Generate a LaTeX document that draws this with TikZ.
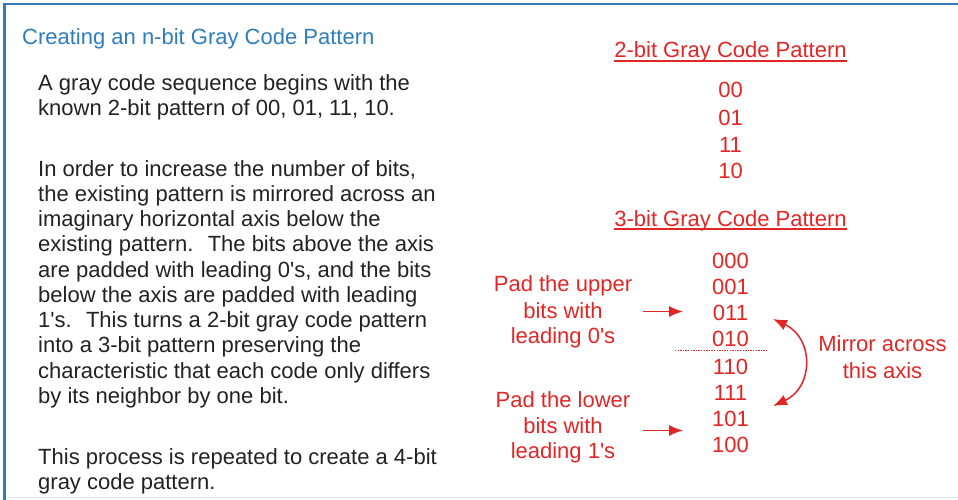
\documentclass[tikz,border=0pt]{standalone}
\usepackage{fontspec}
\setmainfont{Liberation Sans}[Ligatures=TeXOff]
\usetikzlibrary{arrows.meta}
\definecolor{frameblue}{RGB}{52,122,192}
\definecolor{titleblue}{RGB}{46,125,190}
\definecolor{bodytext}{RGB}{34,34,34}
\definecolor{codered}{RGB}{226,38,38}
\definecolor{faint}{RGB}{226,230,238}
\tikzset{
  body/.style={anchor=base west, inner sep=0pt, text=bodytext, font=\fontsize{22}{26}\selectfont},
  ttl/.style={anchor=base west, inner sep=0pt, text=titleblue, font=\fontsize{22}{26}\selectfont},
  redc/.style={anchor=base, inner sep=0pt, text=codered, font=\fontsize{22}{26}\selectfont},
  redarrow/.style={draw=codered, line width=1.5pt, -{Latex[length=14pt,width=11pt]}},
  underl/.style={draw=codered, line width=1.2pt},
}
\begin{document}
\begin{tikzpicture}[x=1pt,y=-1pt]
\useasboundingbox (0,0) rectangle (958,500);
\fill[white] (0,0) rectangle (958,500);
% frame
\draw[faint, line width=1pt] (4,497.5) -- (958,497.5);
\draw[frameblue, line width=2.6pt] (2.5,4) -- (958,4);
\draw[frameblue, line width=2.6pt] (4.5,2.7) -- (4.5,500);
% title
\node[ttl] (title) at (22,45) {Creating an n-bit Gray Code Pattern};
% body text
\node[body] (b1) at (38,91) {A gray code sequence begins with the};
\node[body] (b2) at (38,116) {known 2-bit pattern of 00, 01, 11, 10.};
\node[body] (b3) at (38,176) {In order to increase the number of bits,};
\node[body] (b4) at (38,201) {the existing pattern is mirrored across an};
\node[body] (b5) at (38,226) {imaginary horizontal axis below the};
\node[body] (b6) at (38,251.5) {existing pattern.~ The bits above the axis};
\node[body] (b7) at (38,277) {are padded with leading 0's, and the bits};
\node[body] (b8) at (38,302) {below the axis are padded with leading};
\node[body] (b9) at (38,327) {1's.~ This turns a 2-bit gray code pattern};
\node[body] (b10) at (38,352.5) {into a 3-bit pattern preserving the};
\node[body] (b11) at (38,378) {characteristic that each code only differs};
\node[body] (b12) at (38,403) {by its neighbor by one bit.};
\node[body] (b13) at (38,464) {This process is repeated to create a 4-bit};
\node[body] (b14) at (38,489) {gray code pattern.};
% 2-bit pattern
\node[redc] (h2) at (730.5,58) {2-bit Gray Code Pattern};
\draw[underl] ([yshift=-3pt]h2.base west) -- ([yshift=-3pt]h2.base east);
\node[redc] (c00) at (730.5,98) {00};
\node[redc] (c01) at (730.5,125) {01};
\node[redc] (c11) at (730.5,152) {11};
\node[redc] (c10) at (730.5,178) {10};
% 3-bit pattern
\node[redc] (h3) at (730.5,226) {3-bit Gray Code Pattern};
\draw[underl] ([yshift=-3pt]h3.base west) -- ([yshift=-3pt]h3.base east);
\node[redc] (d000) at (730.5,268) {000};
\node[redc] (d001) at (730.5,294.5) {001};
\node[redc] (d011) at (730.5,320) {011};
\node[redc] (d010) at (730.5,346) {010};
\node[redc] (d110) at (730.5,374) {110};
\node[redc] (d111) at (730.5,400.5) {111};
\node[redc] (d101) at (730.5,426) {101};
\node[redc] (d100) at (730.5,452) {100};
% axis
\coordinate (axL) at (675,350);
\coordinate (axR) at (768,350);
\draw[codered, line width=0.9pt, dash pattern=on 1.3pt off 1.3pt] (axL) -- (axR);
% left labels
\node[redc] (u1) at (563,291) {Pad the upper};
\node[redc] (u2) at (563,318) {bits with};
\node[redc] (u3) at (563,343) {leading 0's};
\node[redc] (l1) at (563,407) {Pad the lower};
\node[redc] (l2) at (563,433) {bits with};
\node[redc] (l3) at (563,458.5) {leading 1's};
% right label
\node[redc] (m1) at (882.5,351) {Mirror across};
\node[redc] (m2) at (882.5,378) {this axis};
% arrows
\coordinate (ua0) at (643,311.5);
\coordinate (ua1) at (683,311.5);
\coordinate (la0) at (643,430.5);
\coordinate (la1) at (683,430.5);
\draw[redarrow] (ua0) -- (ua1);
\draw[redarrow] (la0) -- (la1);
\coordinate (mt) at (773,319);
\coordinate (mb) at (773,406);
\draw[draw=codered, line width=1.5pt, {Latex[length=14pt,width=11pt]}-{Latex[length=14pt,width=11pt]}]
  (mt) .. controls (814,338) and (814,387) .. (mb);
\end{tikzpicture}
\end{document}
